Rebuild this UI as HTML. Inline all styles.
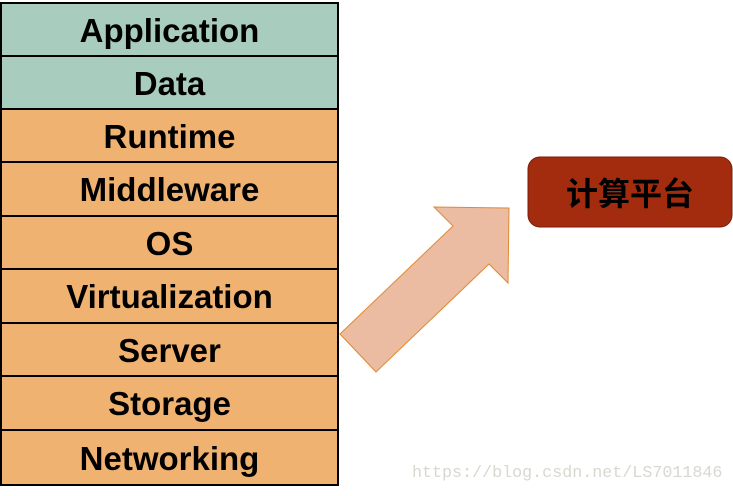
<!DOCTYPE html>
<html><head><meta charset="utf-8"><style>
body{margin:0;width:733px;height:496px;background:#fff;position:relative;overflow:hidden;font-family:"Liberation Sans","Noto Sans CJK SC",sans-serif}
.r{position:absolute;left:0px;width:339px;border:2.5px solid #000;border-top:none;display:flex;align-items:center;justify-content:center;font-weight:bold;font-size:33px;color:#000;box-sizing:border-box;padding-top:2px}
.t{background:#a8cdbf}.o{background:#f0b271}
</style></head><body>
<div class="r t" style="top:2px;height:55px;border-top:2.5px solid #000">Application</div>
<div class="r t" style="top:57px;height:53px">Data</div>
<div class="r o" style="top:110px;height:53px">Runtime</div>
<div class="r o" style="top:163px;height:54px">Middleware</div>
<div class="r o" style="top:217px;height:53px">OS</div>
<div class="r o" style="top:270px;height:54px">Virtualization</div>
<div class="r o" style="top:324px;height:53px">Server</div>
<div class="r o" style="top:377px;height:54px">Storage</div>
<div class="r o" style="top:431px;height:55px">Networking</div>
<svg style="position:absolute;left:0;top:0" width="733" height="496">
<polygon points="340,334 453,226 434,207 509,208 508,283 489,264 376,372" fill="#ebbba2" stroke="#e08a30" stroke-width="1"/>
<rect x="528" y="157" width="204" height="70" rx="12" fill="#a32b0e" stroke="#7a1f08" stroke-width="1"/>
<text x="630" y="205" text-anchor="middle" font-size="32" font-weight="bold" font-family="Noto Sans CJK SC,sans-serif" fill="#000">计算平台</text>
</svg>
<div style="position:absolute;left:412px;top:464px;font-family:'Liberation Mono',monospace;font-size:16.7px;color:#d8d8d0">https://blog.csdn.net/LS7011846</div>
</body></html>
